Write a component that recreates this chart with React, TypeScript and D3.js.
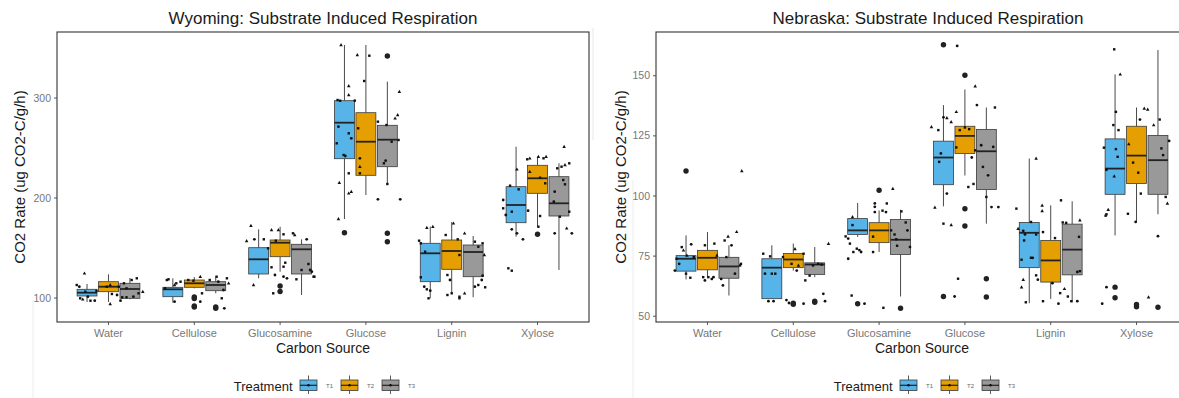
import React from "react";
import * as d3 from "d3";

const categories = ["Water", "Cellulose", "Glucosamine", "Glucose", "Lignin", "Xylose"];
const treatments = ["T1", "T2", "T3"];
const fills = ["#56B4E9", "#E69F00", "#999999"];

// [lower whisker, q1, median, q3, upper whisker] per category
const wyT1 = [[96, 102, 105.3, 108.7, 114], [95.3, 101.3, 108.7, 110.7, 119.7], [119.7, 124, 138.7, 150.3, 168.7], [179, 239.3, 275.3, 297.3, 353], [99.7, 116.3, 144.7, 154.7, 171.3], [161.3, 175.3, 193, 211.3, 251.3]];
const wyT2 = [[96, 106.3, 111.3, 116.3, 123.7], [109.7, 110.7, 114.7, 118, 121], [126.3, 141.3, 155.3, 158, 171.3], [203, 222.7, 256.3, 285.3, 353], [104.7, 128.7, 147, 158, 176], [171.3, 204.7, 219.7, 232.7, 241.3]];
const wyT3 = [[98.7, 99.7, 109, 114.7, 120], [104.7, 107.3, 113, 116.3, 121.3], [103, 124, 148.7, 153.7, 158.7], [214.7, 231.3, 258.3, 272.7, 316.3], [100.7, 121.3, 146, 153, 162], [128, 182, 194.7, 221.3, 234.7]];

const neT1 = [[65.3, 68.75, 73.9, 75.2, 83.6], [57.3, 57.3, 70.2, 73.9, 79.5], [83, 84, 85.7, 90.6, 97.1], [95.7, 104.7, 116, 122.8, 137.8], [55.4, 70.2, 84.7, 89, 115.6], [83.6, 100.7, 111.4, 123.75, 150.6]];
const neT2 = [[66.25, 69.3, 74.3, 77.4, 85], [69, 70.2, 73.6, 76.1, 80.2], [76.7, 80.6, 85.7, 88.9, 94], [108.5, 117.7, 125, 129, 144.3], [57.2, 64.2, 73.2, 81.5, 96.1], [89.2, 105.2, 116.8, 129, 136.8]];
const neT3 = [[58.6, 65.8, 70.7, 74.5, 79.5], [66.25, 67.4, 71.5, 72.2, 78.8], [58.2, 75.7, 81.8, 90.2, 94.3], [88.5, 102.7, 118.6, 127.7, 136.8], [55.8, 67.2, 77.7, 88.3, 97.8], [92.4, 100.7, 114.9, 125.2, 160.7]];

// [category, treatment, value]
const wyOutliers = [[1, 1, 101], [1, 1, 99.5], [1, 1, 92], [1, 1, 91], [1, 2, 91], [1, 2, 89.7], [2, 1, 112], [2, 1, 106.5], [3, 0, 165.3], [3, 2, 342], [3, 2, 164.7], [3, 2, 156.3], [5, 1, 163.7]];
const neOutliers = [[0, 0, 110.4], [1, 1, 55.4], [1, 1, 55.0], [1, 2, 56.3], [1, 2, 55.8], [2, 0, 55.2], [2, 1, 102.4], [2, 2, 53.3], [3, 0, 162.9], [3, 0, 58.2], [3, 1, 150.2], [3, 1, 94.7], [3, 1, 87.5], [3, 2, 65.6], [3, 2, 58], [5, 0, 62.1], [5, 0, 57.7], [5, 1, 54.9], [5, 1, 53.9], [5, 2, 53.75]];

// jittered observations: [category, offset (category units), value, shape 0 circle 1 triangle 2 square]
const wyPoints = [
  [0, -0.28, 124.7, 1], [0, -0.37, 113, 2], [0, -0.34, 111.3, 0], [0, -0.27, 106.3, 2], [0, -0.24, 101.3, 0], [0, -0.33, 99.7, 2], [0, -0.3, 98.7, 1], [0, -0.21, 97.3, 2], [0, -0.16, 97.3, 0], [0, -0.14, 107, 2], [0, -0.02, 111.3, 2], [0, 0.02, 113, 1], [0, 0.04, 104, 2], [0, 0.12, 111.3, 2], [0, 0.1, 103, 0], [0, 0.02, 94, 1], [0, 0.14, 97.3, 0], [0, 0.18, 114.7, 2], [0, 0.21, 109.7, 2], [0, 0.27, 118, 2], [0, 0.33, 119.7, 2], [0, 0.29, 101.3, 0], [0, 0.21, 100.7, 2], [0, 0.35, 104.7, 2], [0, 0.4, 106.3, 1], [0, 0.16, 100.7, 2],
  [1, -0.32, 118, 2], [1, -0.3, 118.7, 2], [1, -0.34, 109.7, 2], [1, -0.23, 113, 1], [1, -0.21, 114.7, 2], [1, -0.16, 116.3, 2], [1, -0.23, 96.3, 0], [1, -0.07, 118, 2], [1, -0.01, 117.3, 2], [1, 0.07, 121.3, 1], [1, 0.07, 96.3, 0], [1, 0.09, 104.7, 2], [1, 0.18, 118, 2], [1, 0.26, 121.3, 2], [1, 0.28, 116.3, 0], [1, 0.38, 119.7, 2], [1, 0.4, 114.7, 1], [1, 0.34, 108, 0], [1, 0.32, 99.7, 2], [1, 0.35, 89.7, 0],
  [2, -0.39, 157, 1], [2, -0.34, 172.3, 1], [2, -0.3, 158.7, 0], [2, -0.19, 158.7, 2], [2, -0.14, 149.7, 2], [2, -0.1, 168, 1], [2, -0.05, 157.3, 2], [2, -0.02, 168, 1], [2, 0.04, 163.7, 2], [2, 0.15, 164.7, 2], [2, 0.17, 163, 1], [2, 0.31, 158.7, 0], [2, 0.33, 134, 2], [2, 0.35, 128, 0], [2, 0.39, 121.3, 2], [2, -0.1, 130.7, 2], [2, 0.06, 135.3, 2], [2, 0.04, 121.3, 0], [2, -0.31, 113, 1], [2, -0.08, 104.7, 2], [2, -0.06, 123, 0], [2, 0.04, 131.3, 2], [2, 0.08, 119.7, 0], [2, 0.19, 118.7, 2], [2, 0.25, 128, 2], [2, 0.37, 126.3, 0], [2, 0.4, 121.3, 2],
  [3, -0.29, 353, 1], [3, -0.1, 343, 1], [3, 0.04, 342.3, 2], [3, -0.02, 317, 2], [3, -0.2, 312, 1], [3, -0.2, 303, 1], [3, -0.33, 298, 2], [3, -0.3, 297.3, 2], [3, -0.13, 297.3, 0], [3, -0.32, 271.3, 0], [3, -0.2, 264.7, 2], [3, -0.17, 259.7, 0], [3, -0.34, 254.7, 2], [3, -0.26, 243, 2], [3, -0.24, 242, 0], [3, -0.09, 269.7, 2], [3, -0.07, 239.7, 0], [3, -0.07, 224.7, 2], [3, -0.2, 224.7, 2], [3, -0.31, 215.3, 1], [3, -0.2, 204.7, 1], [3, -0.17, 206.3, 1], [3, -0.32, 179, 1], [3, 0.14, 276.3, 2], [3, 0.24, 273, 2], [3, 0.34, 279.7, 1], [3, 0.37, 283, 1], [3, 0.39, 306.3, 1], [3, 0.38, 258, 2], [3, 0.3, 256.3, 2], [3, 0.21, 234.7, 2], [3, 0.23, 237.3, 0], [3, 0.25, 214, 2], [3, 0.14, 198.7, 0], [3, 0.4, 198.7, 0], [3, -0.07, 231.3, 1],
  [4, -0.38, 157.3, 2], [4, -0.36, 154.7, 2], [4, -0.29, 170.3, 1], [4, -0.22, 171.3, 1], [4, -0.31, 146.3, 2], [4, -0.36, 120.7, 2], [4, -0.32, 111.3, 0], [4, -0.29, 108.7, 2], [4, -0.25, 107.3, 0], [4, -0.27, 99.7, 2], [4, -0.05, 123, 2], [4, -0.02, 118, 0], [4, 0, 104.7, 2], [4, -0.05, 103, 2], [4, 0.02, 174.7, 1], [4, -0.07, 163, 2], [4, 0.07, 158.7, 2], [4, 0.09, 143, 2], [4, 0.15, 164.7, 1], [4, 0.15, 104.7, 1], [4, 0.09, 101.3, 2], [4, 0.09, 99.7, 2], [4, 0.27, 156.3, 2], [4, 0.31, 151.3, 2], [4, 0.36, 154.7, 2], [4, 0.38, 143, 1], [4, 0.35, 118, 0], [4, 0.31, 113, 2], [4, 0.27, 111.3, 0], [4, 0.39, 110.7, 2], [4, 0.36, 122.3, 0],
  [5, -0.4, 198, 0], [5, -0.4, 189.7, 2], [5, -0.37, 183, 0], [5, -0.3, 168.7, 0], [5, -0.24, 164.7, 0], [5, -0.17, 158.7, 0], [5, -0.34, 129.7, 2], [5, -0.3, 127.3, 2], [5, -0.32, 212.3, 2], [5, -0.24, 228.7, 1], [5, -0.22, 208.7, 2], [5, -0.3, 186.3, 2], [5, -0.11, 187.3, 0], [5, -0.09, 226.3, 1], [5, -0.12, 238.7, 2], [5, -0.09, 239.7, 1], [5, 0.01, 241.3, 1], [5, 0.07, 239.7, 2], [5, 0.1, 241.3, 1], [5, 0.03, 220.3, 2], [5, 0.09, 214.7, 2], [5, 0.03, 182, 2], [5, 0.01, 171.3, 2], [5, 0.2, 206.3, 0], [5, 0.19, 196.3, 0], [5, 0.23, 229.7, 2], [5, 0.28, 231.3, 2], [5, 0.31, 251.3, 1], [5, 0.32, 233, 1], [5, 0.37, 234.7, 2], [5, 0.3, 218, 2], [5, 0.32, 213.7, 2], [5, 0.34, 169.7, 1], [5, 0.4, 164.7, 0], [5, 0.2, 164.7, 0], [5, 0.37, 186.3, 2], [5, 0.26, 181.3, 2],
];

const nePoints = [
  [0, -0.38, 69, 0], [0, -0.3, 78.75, 2], [0, -0.28, 77.4, 1], [0, -0.19, 79.9, 0], [0, -0.03, 79.5, 2], [0, 0.08, 80.2, 2], [0, 0.24, 83.2, 1], [0, 0.28, 79.5, 0], [0, 0.34, 85.1, 1], [0, 0.39, 71.8, 2], [0, 0.32, 67.7, 0], [0, -0.36, 73.9, 2], [0, -0.33, 71.8, 0], [0, -0.25, 67.7, 2], [0, -0.2, 66, 2], [0, -0.24, 75.3, 1], [0, -0.16, 74.6, 2], [0, -0.05, 66.25, 2], [0, -0.03, 64.9, 0], [0, 0.01, 66.25, 2], [0, 0.05, 65.5, 2], [0, 0.07, 66.25, 0], [0, 0.11, 75.3, 1], [0, 0.16, 65.5, 2], [0, 0.18, 62.8, 0], [0, 0.38, 71.1, 2], [0, 0.2, 81.5, 2], [0, 0.22, 74.6, 2], [0, 0.4, 110.4, 1],
  [1, -0.35, 76, 2], [1, -0.27, 74.9, 2], [1, -0.25, 67.7, 2], [1, -0.33, 67.7, 0], [1, -0.21, 67.7, 2], [1, -0.29, 56.25, 0], [1, -0.23, 56.25, 0], [1, -0.08, 56.7, 0], [1, -0.12, 74.6, 2], [1, -0.02, 71.8, 2], [1, 0.04, 69, 0], [1, 0.06, 71.1, 1], [1, 0.12, 76, 2], [1, 0.14, 64.9, 2], [1, 0.19, 66.9, 2], [1, 0.23, 71.1, 2], [1, 0.29, 71.8, 2], [1, 0.33, 71.5, 2], [1, 0.35, 59.3, 0], [1, 0.37, 56.25, 0], [1, 0.12, 55.2, 0], [1, 0.41, 80.2, 1], [1, 0.02, 78, 1], [1, -0.05, 55.5, 0],
  [2, -0.39, 83.2, 2], [2, -0.36, 82.3, 0], [2, -0.31, 91.3, 1], [2, -0.34, 80.2, 2], [2, -0.3, 76.7, 2], [2, -0.36, 73.9, 0], [2, -0.26, 78.1, 2], [2, -0.23, 77.5, 2], [2, -0.21, 76.7, 0], [2, -0.31, 87.9, 2], [2, -0.07, 83.1, 2], [2, -0.07, 76.7, 2], [2, -0.05, 96.9, 0], [2, -0.05, 95.5, 0], [2, -0.05, 93.3, 0], [2, 0.16, 103, 1], [2, 0.04, 93.9, 2], [2, 0.09, 96.9, 2], [2, 0.08, 93.3, 0], [2, 0.14, 85.7, 2], [2, 0.18, 84, 2], [2, 0.2, 82, 2], [2, 0.21, 79.3, 2], [2, 0.26, 93.6, 2], [2, 0.31, 89, 2], [2, 0.33, 85.7, 0], [2, 0.36, 78.8, 2], [2, -0.32, 58.6, 2], [2, -0.17, 55.2, 0], [2, 0.05, 53.5, 2],
  [3, -0.39, 128.75, 1], [3, -0.35, 95.2, 1], [3, -0.31, 127.4, 2], [3, -0.25, 132.7, 0], [3, -0.21, 132.5, 1], [3, -0.16, 130.8, 1], [3, -0.1, 135, 1], [3, -0.09, 162.4, 0], [3, -0.28, 117.7, 0], [3, -0.3, 114.2, 2], [3, -0.21, 101, 0], [3, -0.25, 88.5, 2], [3, -0.16, 88, 1], [3, -0.1, 120.2, 2], [3, -0.06, 127.4, 2], [3, 0, 128.5, 2], [3, 0.05, 127.8, 2], [3, 0.08, 116, 0], [3, 0.12, 145.7, 1], [3, 0.14, 137.8, 0], [3, 0.12, 119, 2], [3, 0.04, 103.75, 2], [3, 0.1, 105, 2], [3, 0.19, 121.1, 0], [3, 0.21, 112.1, 2], [3, 0.25, 99.6, 2], [3, 0.27, 108.6, 0], [3, 0.31, 95.4, 0], [3, 0.39, 95.4, 0], [3, 0.35, 136.8, 2], [3, 0.33, 120.4, 0], [3, -0.08, 65.6, 2], [3, -0.12, 58.2, 0],
  [4, -0.4, 94.75, 2], [4, -0.38, 86.4, 1], [4, -0.32, 85.5, 0], [4, -0.31, 81.5, 2], [4, -0.34, 73.5, 2], [4, -0.3, 84, 0], [4, -0.23, 89.2, 2], [4, -0.17, 115.6, 1], [4, -0.23, 74.3, 2], [4, -0.21, 74.3, 0], [4, -0.17, 67, 2], [4, -0.17, 84, 2], [4, -0.32, 65.2, 1], [4, -0.34, 62.1, 1], [4, -0.29, 55.8, 2], [4, -0.1, 96.1, 1], [4, -0.1, 93.75, 1], [4, -0.09, 85, 2], [4, -0.15, 65.2, 0], [4, -0.09, 56.25, 2], [4, 0.02, 63.75, 0], [4, 0.05, 82.5, 2], [4, 0.09, 55.2, 0], [4, 0.11, 59.6, 2], [4, 0.12, 98.2, 2], [4, 0.14, 89, 2], [4, 0.18, 88.8, 0], [4, 0.2, 58.2, 2], [4, 0.16, 61.4, 1], [4, 0.24, 56.25, 2], [4, 0.31, 56.25, 0], [4, 0.34, 89.9, 1], [4, 0.33, 83, 2], [4, 0.34, 68.75, 2], [4, 0.31, 68.4, 0],
  [5, -0.4, 55.2, 0], [5, -0.35, 62.1, 0], [5, -0.35, 92.4, 2], [5, -0.36, 91.8, 2], [5, -0.38, 120.1, 2], [5, -0.35, 110.9, 0], [5, -0.33, 94.3, 1], [5, -0.26, 161, 2], [5, -0.24, 135, 2], [5, -0.27, 129.5, 2], [5, -0.26, 108.2, 1], [5, -0.24, 119.5, 2], [5, -0.22, 116.3, 2], [5, -0.21, 127.4, 2], [5, -0.19, 150.6, 1], [5, -0.1, 92.6, 2], [5, -0.09, 121.6, 1], [5, -0.04, 113.9, 2], [5, 0.02, 109.7, 2], [5, 0.04, 131.8, 0], [5, 0.09, 136.4, 1], [5, 0.13, 136, 1], [5, 0.05, 101, 2], [5, -0.01, 89.2, 0], [5, 0.14, 57.9, 1], [5, 0.2, 129.5, 1], [5, 0.27, 131.8, 2], [5, 0.25, 83.3, 0], [5, 0.29, 119.8, 2], [5, 0.31, 117, 2], [5, 0.34, 99.6, 2], [5, 0.36, 96.9, 1], [5, 0.38, 122.9, 0],
];

const wyTicks = [100, 200, 300];
const neTicks = [50, 75, 100, 125, 150];

const FONT = "'Liberation Sans', Arial, sans-serif";
const PLOT_TOP = 32;
const PLOT_BOTTOM = 322;

function Shape({ x, y, s }) {
  if (s === 0) return <circle cx={x} cy={y} r={1.4} fill="#111" />;
  if (s === 1) {
    const h = 3.2;
    return <path d={`M${x},${y - h * 0.6}L${x + h * 0.55},${y + h * 0.4}L${x - h * 0.55},${y + h * 0.4}Z`} fill="#111" />;
  }
  return <rect x={x - 1.2} y={y - 1.2} width={2.4} height={2.4} fill="#111" />;
}

function Panel({ title, titleX, x0, x1, yDomain, ticks, boxes, outliers, points, yTitleX, legendDx }) {
  const xs = d3.scalePoint().domain(categories).range([x0, x1]).padding(0.6);
  const step = xs.step();
  const y = d3.scaleLinear().domain(yDomain).range([PLOT_BOTTOM, PLOT_TOP]);
  const dodge = 0.25 * step;
  const bw = 0.232 * step;
  const cx = (ci, ti) => xs(categories[ci]) + (ti - 1) * dodge;
  const midX = (x0 + x1) / 2;
  const midY = (PLOT_TOP + PLOT_BOTTOM) / 2;
  const clipId = "clip" + Math.round(x0);
  const lgX = 300 + legendDx;
  return (
    <g>
      <defs>
        <clipPath id={clipId}>
          <rect x={x0} y={PLOT_TOP} width={x1 - x0} height={PLOT_BOTTOM - PLOT_TOP} />
        </clipPath>
      </defs>
      <text x={titleX} y={23.5} textAnchor="middle" fontFamily={FONT} fontSize={17} fill="#1a1a1a">{title}</text>
      <g clipPath={`url(#${clipId})`}>
        {boxes.map((tb, ti) =>
          tb.map((b, ci) => {
            const c = cx(ci, ti);
            const [lo, q1, med, q3, hi] = b;
            return (
              <g key={`b${ti}-${ci}`}>
                <line x1={c} x2={c} y1={y(hi)} y2={y(q3)} stroke="#4a4a4a" strokeWidth={1} />
                <line x1={c} x2={c} y1={y(q1)} y2={y(lo)} stroke="#4a4a4a" strokeWidth={1} />
                <rect x={c - bw / 2} y={y(q3)} width={bw} height={Math.max(0.5, y(q1) - y(q3))} fill={fills[ti]} stroke="#3a3a3a" strokeWidth={0.8} />
                <line x1={c - bw / 2} x2={c + bw / 2} y1={y(med)} y2={y(med)} stroke="#222" strokeWidth={1.8} />
              </g>
            );
          })
        )}
        {outliers.map((o, i) => (
          <circle key={`o${i}`} cx={cx(o[0], o[1])} cy={y(o[2])} r={2.7} fill="#222" />
        ))}
        {points.map((p, i) => (
          <Shape key={`p${i}`} x={xs(categories[p[0]]) + p[1] * step} y={y(p[2])} s={p[3]} />
        ))}
      </g>
      <rect x={x0} y={PLOT_TOP} width={x1 - x0} height={PLOT_BOTTOM - PLOT_TOP} fill="none" stroke="#333" strokeWidth={1.1} />
      {ticks.map((t) => (
        <g key={`yt${t}`}>
          <line x1={x0 - 3} x2={x0} y1={y(t)} y2={y(t)} stroke="#444" strokeWidth={0.9} />
          <text x={x0 - 6} y={y(t) + 3.6} textAnchor="end" fontFamily={FONT} fontSize={10.5} fill="#777">{t}</text>
        </g>
      ))}
      {categories.map((c) => (
        <g key={`xt${c}`}>
          <line x1={xs(c)} x2={xs(c)} y1={PLOT_BOTTOM} y2={PLOT_BOTTOM + 3} stroke="#444" strokeWidth={0.9} />
          <text x={xs(c)} y={337} textAnchor="middle" fontFamily={FONT} fontSize={11} fill="#777">{c}</text>
        </g>
      ))}
      <text x={midX} y={353} textAnchor="middle" fontFamily={FONT} fontSize={14} fill="#1a1a1a">Carbon Source</text>
      <text transform={`translate(${yTitleX},${midY}) rotate(-90)`} textAnchor="middle" fontFamily={FONT} fontSize={15} fill="#1a1a1a">CO2 Rate (ug CO2-C/g/h)</text>
      <text x={lgX - 7.5} y={390.5} textAnchor="end" fontFamily={FONT} fontSize={13} fill="#1a1a1a">Treatment</text>
      {treatments.map((t, i) => {
        const kx = lgX + i * 41;
        return (
          <g key={`lg${t}`}>
            <line x1={kx + 8.5} x2={kx + 8.5} y1={375.5} y2={394} stroke="#4a4a4a" strokeWidth={0.9} />
            <rect x={kx} y={380} width={17} height={10.5} fill={fills[i]} stroke="#3a3a3a" strokeWidth={0.8} />
            <line x1={kx} x2={kx + 17} y1={385.3} y2={385.3} stroke="#222" strokeWidth={1.2} />
            <circle cx={kx + 8.5} cy={385.3} r={1.3} fill="#111" />
            <text x={kx + 26} y={387.5} fontFamily={FONT} fontSize={6} fill="#666">{t}</text>
          </g>
        );
      })}
    </g>
  );
}

export default function App() {
  return (
    <svg width={1179} height={398} style={{ position: "absolute", left: 0, top: 0, background: "#fff" }}>
      <rect x={0} y={0} width={1179} height={398} fill="#fff" />
      <line x1={33} x2={33} y1={300} y2={398} stroke="#ececec" strokeWidth={1} />
      <line x1={593} x2={593} y1={28} y2={140} stroke="#e8e8e8" strokeWidth={1} />
      <line x1={633} x2={633} y1={180} y2={398} stroke="#ececec" strokeWidth={1} />
      <Panel title="Wyoming: Substrate Induced Respiration" titleX={323} x0={57} x1={589} yDomain={[76, 366]} ticks={wyTicks} boxes={[wyT1, wyT2, wyT3]} outliers={wyOutliers} points={wyPoints} yTitleX={25} legendDx={0} />
      <Panel title="Nebraska: Substrate Induced Respiration" titleX={928} x0={656} x1={1188} yDomain={[47.6, 168.2]} ticks={neTicks} boxes={[neT1, neT2, neT3]} outliers={neOutliers} points={nePoints} yTitleX={626} legendDx={600} />
    </svg>
  );
}
